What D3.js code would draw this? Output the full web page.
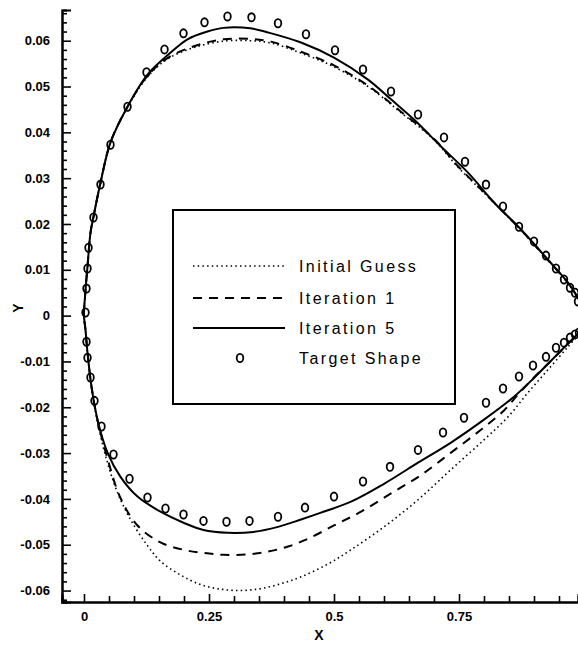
<!DOCTYPE html>
<html>
<head>
<meta charset="utf-8">
<script src="https://cdn.jsdelivr.net/npm/d3@7"></script>
<style>
  html, body { margin: 0; padding: 0; background: #fff; }
  svg { display: block; }
  text { font-family: "Liberation Sans", Arial, sans-serif; fill: #000; }
</style>
</head>
<body>
<svg id="chart" width="578" height="645"></svg>
<script>
// ---------- data ----------
const xTicksMajor = [0, 0.25, 0.5, 0.75];
const xTickLabels = ["0", "0.25", "0.5", "0.75"];
const xTicksMinor = [0.05, 0.1, 0.15, 0.2, 0.3, 0.35, 0.4, 0.45, 0.55, 0.6, 0.65, 0.7, 0.8, 0.85, 0.9, 0.95];
const yTicksMajor = [-0.06, -0.05, -0.04, -0.03, -0.02, -0.01, 0, 0.01, 0.02, 0.03, 0.04, 0.05, 0.06];
const yTickLabels = ["-0.06", "-0.05", "-0.04", "-0.03", "-0.02", "-0.01", "0", "0.01", "0.02", "0.03", "0.04", "0.05", "0.06"];
const legendLabels = ["Initial Guess", "Iteration 1", "Iteration 5", "Target Shape"];

// surfaces listed from leading edge (x=0) to trailing edge
const initialUpper = [[0,0],[0.003,0.0055],[0.007,0.0107],[0.013,0.0181],[0.019,0.0216],[0.033,0.029],[0.053,0.0378],[0.087,0.0455],[0.127,0.0521],[0.167,0.0560],[0.22,0.0585],[0.279,0.0599],[0.333,0.0600],[0.374,0.0595],[0.434,0.0573],[0.50,0.0543],[0.568,0.0500],[0.634,0.0443],[0.70,0.0384],[0.748,0.0324],[0.80,0.0268],[0.84,0.0224],[0.874,0.0186],[0.928,0.0121],[0.968,0.0071],[0.99,0.0035]];
const initialLower = [[0,0],[0.003,-0.0031],[0.007,-0.0081],[0.015,-0.0156],[0.027,-0.0232],[0.047,-0.0321],[0.067,-0.0386],[0.093,-0.0445],[0.127,-0.0502],[0.153,-0.0536],[0.193,-0.0566],[0.233,-0.0587],[0.273,-0.0597],[0.313,-0.0600],[0.353,-0.0596],[0.394,-0.0585],[0.434,-0.0570],[0.488,-0.0542],[0.534,-0.0511],[0.60,-0.0461],[0.668,-0.0402],[0.734,-0.0336],[0.80,-0.0271],[0.848,-0.0221],[0.888,-0.0168],[0.928,-0.0118],[0.968,-0.0068],[0.99,-0.0040]];

const iter1Upper = [[0,0],[0.003,0.0055],[0.007,0.0107],[0.013,0.0181],[0.019,0.0216],[0.033,0.029],[0.053,0.0378],[0.087,0.0456],[0.127,0.0523],[0.167,0.0562],[0.22,0.0588],[0.279,0.0603],[0.333,0.0604],[0.374,0.0598],[0.434,0.0576],[0.50,0.0546],[0.568,0.0502],[0.634,0.0445],[0.70,0.0386],[0.748,0.0326],[0.80,0.0269],[0.84,0.0225],[0.874,0.0187],[0.928,0.0121],[0.968,0.0071],[0.99,0.0035]];
const iter1Lower = [[0,0],[0.003,-0.0031],[0.007,-0.0081],[0.015,-0.0155],[0.027,-0.0228],[0.047,-0.0312],[0.073,-0.0398],[0.107,-0.0458],[0.153,-0.0495],[0.199,-0.0511],[0.239,-0.0518],[0.279,-0.0522],[0.327,-0.0521],[0.368,-0.0515],[0.408,-0.0504],[0.448,-0.0487],[0.50,-0.0458],[0.554,-0.0428],[0.614,-0.0388],[0.674,-0.0348],[0.734,-0.0299],[0.794,-0.0249],[0.84,-0.0207],[0.868,-0.0172],[0.90,-0.0135],[0.94,-0.0092],[0.98,-0.0048],[0.99,-0.0037]];

const iter5Upper = [[0,0],[0.003,0.0055],[0.007,0.0107],[0.013,0.0181],[0.019,0.0216],[0.033,0.029],[0.053,0.0378],[0.087,0.0456],[0.127,0.0526],[0.167,0.0568],[0.207,0.0603],[0.247,0.0620],[0.279,0.0628],[0.333,0.0627],[0.368,0.0618],[0.434,0.0596],[0.50,0.0563],[0.568,0.0515],[0.614,0.0472],[0.66,0.0428],[0.714,0.0369],[0.768,0.0312],[0.82,0.0247],[0.874,0.0188],[0.928,0.0122],[0.968,0.0072],[0.99,0.0035]];
const iter5Lower = [[0,0],[0.003,-0.0031],[0.007,-0.0081],[0.015,-0.0155],[0.027,-0.0227],[0.047,-0.0299],[0.073,-0.0352],[0.107,-0.0395],[0.153,-0.0428],[0.199,-0.0452],[0.239,-0.0468],[0.287,-0.0474],[0.339,-0.0472],[0.388,-0.0461],[0.434,-0.0445],[0.474,-0.0430],[0.534,-0.0406],[0.60,-0.0367],[0.668,-0.0321],[0.734,-0.0277],[0.80,-0.0227],[0.86,-0.0177],[0.90,-0.0136],[0.94,-0.0092],[0.98,-0.0048],[0.99,-0.0037]];

const targetUpper = [[0.003,0.0007],[0.005,0.0059],[0.007,0.0103],[0.009,0.0148],[0.019,0.0214],[0.033,0.0286],[0.053,0.0373],[0.087,0.0456],[0.125,0.0531],[0.161,0.0581],[0.199,0.0616],[0.241,0.0640],[0.287,0.0653],[0.335,0.0651],[0.388,0.0638],[0.444,0.0614],[0.502,0.0579],[0.558,0.0537],[0.614,0.0489],[0.668,0.0439],[0.72,0.0389],[0.762,0.0336],[0.804,0.0286],[0.838,0.0238],[0.870,0.0194],[0.900,0.0162],[0.924,0.0131],[0.944,0.0103],[0.960,0.0079],[0.972,0.0061],[0.982,0.0050],[0.988,0.0031]];
const targetLower = [[0.005,-0.0057],[0.007,-0.0092],[0.013,-0.0135],[0.021,-0.0186],[0.035,-0.0242],[0.059,-0.0303],[0.091,-0.0356],[0.127,-0.0397],[0.163,-0.0421],[0.199,-0.0434],[0.239,-0.0448],[0.285,-0.0450],[0.331,-0.0448],[0.388,-0.0439],[0.442,-0.0419],[0.50,-0.0395],[0.558,-0.0362],[0.612,-0.0330],[0.668,-0.0293],[0.718,-0.0255],[0.760,-0.0223],[0.804,-0.0190],[0.838,-0.0159],[0.870,-0.0133],[0.898,-0.0109],[0.924,-0.0090],[0.944,-0.0070],[0.960,-0.0059],[0.972,-0.0048],[0.982,-0.0041],[0.990,-0.0037]];

// ---------- chart ----------
const svg = d3.select("#chart");
const plotLeft = 62, plotRight = 578, plotTop = 10, plotBottom = 602;
const x = d3.scaleLinear().domain([-0.044, 0.988]).range([plotLeft, plotRight]);
const y = d3.scaleLinear().domain([-0.0625, 0.0667]).range([plotBottom, plotTop]);

svg.append("defs").append("clipPath").attr("id", "plotclip")
  .append("rect").attr("x", plotLeft).attr("y", 0).attr("width", plotRight - plotLeft + 2).attr("height", plotBottom);

// axes
const xMinor = svg.append("g").attr("transform", `translate(0,${plotBottom})`)
  .call(d3.axisBottom(x).tickValues(xTicksMinor).tickSize(-6).tickFormat(""));
const xMajor = svg.append("g").attr("transform", `translate(0,${plotBottom})`)
  .call(d3.axisBottom(x).tickValues(xTicksMajor).tickSize(-8).tickPadding(10)
    .tickFormat((d, i) => xTickLabels[i]));
const yMinorVals = d3.range(-31, 34).map(k => k * 0.002).filter(v => Math.abs(Math.round(v * 1000) % 10) !== 0);
const yMinor = svg.append("g").attr("transform", `translate(${plotLeft},0)`)
  .call(d3.axisLeft(y).tickValues(yMinorVals).tickSize(-5).tickFormat(""));
const yMajor = svg.append("g").attr("transform", `translate(${plotLeft},0)`)
  .call(d3.axisLeft(y).tickValues(yTicksMajor).tickSize(-9).tickPadding(12)
    .tickFormat((d, i) => yTickLabels[i]));

[xMinor, xMajor, yMinor, yMajor].forEach(g => {
  g.selectAll(".domain").attr("stroke", "#000").attr("stroke-width", 2);
  g.selectAll(".tick line").attr("stroke", "#000").attr("stroke-width", 1.6);
  g.selectAll("text").attr("font-size", 13).attr("font-weight", "bold")
    .attr("font-family", "'Liberation Sans', Arial, sans-serif").attr("fill", "#000");
});

// axis titles
svg.append("text").attr("x", 319).attr("y", 640).attr("text-anchor", "middle")
  .attr("font-size", 14).attr("font-weight", "bold").text("X");
svg.append("text").attr("transform", "translate(23,308) rotate(-90)").attr("text-anchor", "middle")
  .attr("font-size", 14).attr("font-weight", "bold").text("Y");

// curves
const line = d3.line().x(d => x(d[0])).y(d => y(d[1])).curve(d3.curveCatmullRom.alpha(0.5));
const loop = (up, lo) => up.slice().reverse().concat(lo.slice(1));
const plot = svg.append("g").attr("clip-path", "url(#plotclip)");

const styles = [
  { up: initialUpper, lo: initialLower, dash: "1.5,3.2", w: 1.6 },
  { up: iter1Upper, lo: iter1Lower, dash: "9,7", w: 2 },
  { up: iter5Upper, lo: iter5Lower, dash: null, w: 2 }
];
styles.forEach(s => {
  plot.append("path").datum(loop(s.up, s.lo)).attr("d", line)
    .attr("fill", "none").attr("stroke", "#000").attr("stroke-width", s.w)
    .attr("stroke-dasharray", s.dash);
});

plot.selectAll("ellipse.target").data(targetUpper.concat(targetLower)).enter()
  .append("ellipse").attr("class", "target")
  .attr("cx", d => x(d[0])).attr("cy", d => y(d[1]))
  .attr("rx", 3.3).attr("ry", 4.1)
  .attr("fill", "none").attr("stroke", "#000").attr("stroke-width", 1.8);

// legend
const lg = svg.append("g");
lg.append("rect").attr("x", 173).attr("y", 210).attr("width", 282).attr("height", 194)
  .attr("fill", "#fff").attr("stroke", "#000").attr("stroke-width", 2);
const rows = [266, 298, 328, 358];
styles.forEach((s, i) => {
  lg.append("line").attr("x1", 193).attr("x2", 285).attr("y1", rows[i]).attr("y2", rows[i])
    .attr("stroke", "#000").attr("stroke-width", s.w).attr("stroke-dasharray", s.dash);
});
lg.append("ellipse").attr("cx", 240).attr("cy", rows[3]).attr("rx", 3.3).attr("ry", 4.1)
  .attr("fill", "none").attr("stroke", "#000").attr("stroke-width", 1.8);
legendLabels.forEach((t, i) => {
  lg.append("text").attr("x", 299).attr("y", rows[i] + 6)
    .attr("font-size", 16).attr("letter-spacing", 2.4).text(t);
});
</script>
</body>
</html>
